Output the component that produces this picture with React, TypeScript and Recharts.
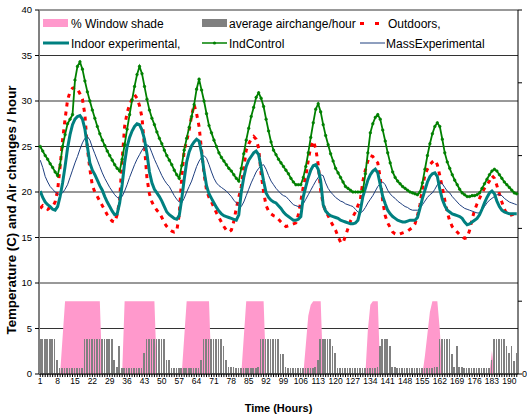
import React from 'react';
import { ComposedChart, Area, Bar, Line, XAxis, YAxis, CartesianGrid } from 'recharts';

const FONT = "'Liberation Sans', Arial, Helvetica, sans-serif";

// hourly readings, hour 1..193
const indControl = [
  25, 24.5, 24, 23.6, 23.1, 22.7, 22.2, 21.8, 23, 25,
  26.3, 27.5, 28, 28.5, 32.3, 33.8, 34.3, 33.5, 32.2, 31,
  30, 29, 28.1, 27.2, 26.4, 25.7, 25.1, 24.5, 24, 23.5,
  23, 22.6, 22.3, 23.6, 25.2, 26.9, 28.5, 30.1, 31.6, 32.9,
  33.8, 33, 31.6, 30.2, 29, 28.1, 27.4, 26.6, 25.9, 25.3,
  24.6, 24, 23.5, 23, 22.4, 21.9, 21.5, 22.9, 24.6, 25.9,
  27.1, 28.3, 29.6, 31.3, 32.4, 31.2, 30, 28.6, 27.3, 26.5,
  25.7, 25, 24.3, 23.8, 23.4, 23, 22.6, 22.3, 21.9, 21.5,
  21.2, 22.6, 24.2, 25.7, 27, 28.3, 29.3, 30.4, 30.9, 30.3,
  29.4, 28, 26.7, 25.5, 24.6, 24.1, 23.6, 23.2, 22.8, 22.4,
  22, 21.5, 21.1, 20.8, 20.8, 20.8, 21.6, 22.8, 24.3, 26,
  27.6, 29.1, 29.7, 28.8, 27.4, 26.2, 25.2, 24.2, 23.4, 22.6,
  22.1, 21.6, 21.1, 20.6, 20.4, 20.2, 20, 20, 20, 20,
  20.1, 22, 24.3, 26.5, 27.5, 28.2, 28.5, 28, 26.8, 25.6,
  24.3, 23.2, 22.2, 21.6, 21.2, 20.9, 20.6, 20.4, 20.2, 20,
  19.9, 19.8, 19.7, 20, 21, 22.5, 24, 25.3, 26.4, 27.2,
  27.6, 27.2, 25.8, 24.3, 23.3, 22.6, 21.9, 21.3, 20.8, 20.3,
  19.9, 19.7, 19.5, 19.5, 19.6, 19.6, 19.7, 19.9, 20.4, 20.9,
  21.4, 21.9, 22.3, 22.5, 22.3, 21.9, 21.5, 21.1, 20.8, 20.5,
  20.2, 19.9, 19.8,
];

const indoorExperimental = [
  20.1, 19.4, 18.9, 18.6, 18.4, 18.1, 18, 18.4, 19.5, 21,
  22.8, 24.8, 26.3, 27.4, 28, 28.3, 28.4, 28, 26.9, 25,
  23.2, 22.4, 21.9, 21.3, 20.7, 20.2, 19.5, 18.9, 18.4, 17.9,
  17.5, 17.6, 18.8, 20.8, 23.2, 25, 26, 26.7, 27.2, 27.5,
  27.4, 26.8, 25.8, 24.2, 22.2, 21, 20.3, 19.9, 19.5, 19,
  18.4, 17.8, 17.5, 17.3, 17.1, 17, 17.4, 19.2, 21.4, 23.3,
  24.4, 25.1, 25.5, 25.8, 25.6, 24.3, 22.3, 20.7, 19.8, 19.3,
  18.8, 18.3, 17.9, 17.6, 17.4, 17.3, 17.2, 17.1, 17, 16.9,
  17.5, 20, 21.6, 22.8, 23.5, 23.9, 24.3, 24.5, 24.1, 22.7,
  21.2, 19.9, 19.4, 19.1, 18.9, 18.8, 18.5, 18.2, 17.8, 17.5,
  17.3, 17.1, 16.9, 16.9, 17, 17.3, 19.5, 20.6, 21.6, 22.4,
  22.9, 23, 22.5, 21.2, 18.6, 17.9, 17.6, 17.4, 17.3, 17.2,
  17.1, 16.9, 16.8, 16.7, 16.6, 16.5, 16.5, 16.6, 16.9, 18,
  19.5, 20.4, 21.3, 21.9, 22.3, 22.5, 22.1, 20.8, 19.5, 18.7,
  18, 17.6, 17.3, 17.1, 16.9, 16.8, 16.7, 16.7, 16.8, 16.9,
  16.9, 16.9, 17.2, 18.2, 19.3, 20.2, 21.1, 21.7, 22, 22.1,
  21.7, 20.3, 19.2, 18.5, 18, 17.8, 17.6, 17.5, 17.4, 17.3,
  17.1, 16.7, 16.4, 16.5, 16.7, 16.9, 17.1, 17.5, 18.1, 18.8,
  19.4, 19.9, 20.1, 19.8, 19, 18.4, 18, 17.8, 17.7, 17.6,
  17.6, 17.6, 17.6,
];

const massExperimental = [
  23.5, 22.7, 21.7, 21.1, 20.6, 20.3, 20, 19.8, 19.7, 19.9,
  20.3, 20.8, 21.6, 22.4, 23.2, 23.9, 24.7, 25.4, 25.9, 26.1,
  25.7, 24.9, 24.2, 23.5, 22.8, 22.1, 21.5, 21, 20.5, 20.1,
  19.7, 19.4, 19.3, 19.5, 20.1, 20.8, 21.6, 22.3, 23, 23.6,
  24.1, 24.6, 25, 25.2, 25, 24.3, 23.6, 23, 22.4, 21.8,
  21.3, 20.9, 20.6, 20.1, 19.6, 19.2, 18.9, 18.8, 19.3, 20,
  20.6, 21.2, 22, 22.8, 23.4, 23.8, 24, 23.7, 23, 22.2,
  21.5, 21, 20.7, 20.5, 20.3, 20.1, 19.8, 19.5, 19.1, 18.8,
  18.5, 18.4, 18.9, 19.6, 20.3, 21, 21.6, 22.2, 22.6, 22.9,
  23, 22.5, 21.8, 21.2, 20.8, 20.4, 20.1, 19.8, 19.6, 19.5,
  19.2, 18.9, 18.6, 18.5, 18.4, 18.4, 18.7, 19.2, 19.7, 20.2,
  20.7, 21.2, 21.6, 21.9, 21.8, 21, 20.4, 20, 19.7, 19.4,
  19.2, 19, 18.9, 18.7, 18.6, 18.5, 18.4, 18.1, 17.8, 17.7,
  17.9, 18.3, 18.8, 19.2, 19.6, 20.1, 20.6, 20.9, 21.1, 20.8,
  20.2, 19.8, 19.5, 19.3, 19, 18.8, 18.6, 18.4, 18.3, 18.1,
  18, 18, 18, 18.2, 18.6, 19, 19.4, 19.7, 19.9, 20.3,
  20.8, 21.1, 20.9, 20.5, 20.1, 19.9, 19.5, 19.2, 18.9, 18.6,
  18.4, 18.2, 18.1, 18, 17.9, 17.8, 17.7, 17.7, 18, 18.4,
  18.8, 19.1, 19.3, 19.5, 19.7, 19.7, 19.6, 19.3, 19.1, 18.9,
  18.8, 18.7, 18.6,
];

const outdoors = [
  18.2, 18.5, 18.3, 18.1, 18.3, 18.4, 18.9, 20.2, 22.8, 25.7,
  28, 30.1, 31, 31.4, 31.5, 31.3, 30.8, 30.2, 28.5, 24.8,
  22.5, 20.7, 20, 19.5, 19, 18.5, 18, 17.5, 17.1, 16.8,
  16.7, 17.5, 19.2, 23.5, 27.2, 28.7, 29.6, 30.2, 30.7, 30.3,
  29.5, 28.2, 25, 21.5, 19.8, 18.9, 18.4, 18, 17.7, 17.2,
  16.6, 16.2, 15.9, 15.7, 15.6, 15.7, 17.5, 21.5, 24.6, 25.6,
  26.8, 28.4, 29.6, 28.6, 27.2, 24.6, 22, 20.2, 19.4, 18.9,
  18.3, 17.7, 17.2, 16.7, 16.2, 15.8, 15.6, 15.8, 16.8, 18.2,
  19.4, 20.6, 22.6, 24.6, 25.3, 25.8, 26.1, 25.8, 24.8, 22,
  20, 18.5, 17.9, 17.6, 17.4, 17.3, 17, 16.7, 16.4, 16.2,
  16.3, 16.4, 16.5, 16.6, 17.5, 19, 20.6, 21.7, 23.5, 25,
  25.6, 24.8, 23, 20.2, 18.6, 17.9, 17.4, 16.8, 16.3, 15.8,
  15.1, 14.5, 14.4, 15.2, 16, 16.8, 17.3, 17.8, 18.5, 19.2,
  21.2, 22.4, 23.4, 24, 23.9, 23.5, 23.2, 21.5, 19, 17.4,
  16.6, 16.1, 15.6, 15.4, 15.3, 15.4, 15.5, 15.6, 15.7, 15.9,
  16.1, 16.5, 17.4, 18.6, 20.4, 21.9, 22.5, 23, 23.3, 23.5,
  23, 21.8, 20.5, 19.1, 17.8, 16.8, 16.2, 15.9, 15.6, 15.3,
  15.1, 14.9, 15, 15.8, 17, 18, 18.7, 19.3, 19.9, 20.4,
  20.8, 21.2, 21.8, 21.5, 20.7, 19.8, 18.9, 18.1, 17.6, 17.4,
  17.5, 17.6, 17.7,
];

const airChange = [
  3.8, 3.8, 3.8, 3.8, 3.8, 3.8, 3.8, 1.5, 0.65, 0.65,
  0.65, 0.65, 0.65, 0.65, 0.65, 0.65, 0.65, 0.65, 3.8, 3.8,
  3.8, 3.8, 3.8, 3.8, 3.8, 3.8, 3.8, 3.8, 3.8, 3.8,
  1.5, 0.8, 3.1, 0.65, 0.65, 0.65, 0.65, 0.65, 0.65, 0.65,
  0.65, 0.65, 2.3, 3.8, 3.8, 3.8, 3.8, 3.8, 3.8, 3.8,
  3.8, 1.5, 1.5, 0.65, 0.65, 0.65, 0.65, 0.65, 0.65, 0.65,
  0.65, 0.65, 0.65, 0.65, 0.65, 1.5, 3.8, 3.8, 3.8, 3.8,
  3.8, 3.8, 3.8, 3.8, 3.1, 1.5, 0.75, 0.75, 0.75, 0.65,
  0.65, 0.65, 0.65, 0.65, 0.65, 0.65, 0.65, 0.65, 0.8, 3.8,
  3.8, 3.8, 3.8, 3.8, 3.8, 3.8, 3.8, 2.2, 2.2, 0.75,
  0.65, 0.65, 0.65, 0.65, 0.65, 0.65, 0.65, 0.65, 0.65, 0.65,
  0.65, 0.8, 1.5, 3.8, 3.8, 3.8, 3.8, 3.8, 3.1, 2.3,
  0.65, 0.65, 0.65, 0.65, 0.65, 0.65, 0.65, 0.65, 0.65, 0.65,
  0.65, 0.65, 0.65, 0.65, 0.65, 0.65, 0.8, 3.1, 3.8, 3.8,
  3.8, 3.1, 0.75, 0.75, 0.65, 0.65, 0.65, 0.65, 0.65, 0.65,
  0.65, 0.65, 0.65, 0.65, 0.65, 0.65, 0.65, 0.65, 0.65, 0.75,
  0.75, 3.8, 3.8, 3.8, 3.8, 3.8, 2.2, 0.75, 3.1, 0.75,
  0.75, 0.65, 0.65, 0.65, 0.65, 0.65, 0.65, 0.65, 0.65, 0.65,
  0.65, 0.65, 1.5, 3.8, 3.8, 3.8, 3.8, 3.8, 3.1, 2.3,
  3.1, 1.4, 2.3,
];

// % window shade, read on the right axis
const windowShade = [
  0, 0, 0, 0, 0, 0, 0, 0, 0, 50,
  100, 100, 100, 100, 100, 100, 100, 100, 100, 100,
  100, 100, 100, 100, 100, 0, 0, 0, 0, 0,
  0, 0, 0, 0, 100, 100, 100, 100, 100, 100,
  100, 100, 100, 100, 100, 100, 100, 0, 0, 0,
  0, 0, 0, 0, 0, 0, 0, 0, 50, 100,
  100, 100, 100, 100, 100, 100, 100, 100, 100, 0,
  0, 0, 0, 0, 0, 0, 0, 0, 0, 0,
  0, 0, 50, 100, 100, 100, 100, 100, 100, 100,
  100, 0, 0, 0, 0, 0, 0, 0, 0, 0,
  0, 0, 0, 0, 0, 0, 0, 40, 80, 95,
  100, 100, 100, 100, 0, 0, 0, 0, 0, 0,
  0, 0, 0, 0, 0, 0, 0, 0, 0, 0,
  0, 0, 60, 95, 100, 100, 100, 0, 0, 0,
  0, 0, 0, 0, 0, 0, 0, 0, 0, 0,
  0, 0, 0, 0, 0, 25, 55, 85, 100, 100,
  100, 60, 0, 0, 0, 0, 0, 0, 0, 0,
  0, 0, 0, 0, 0, 0, 0, 0, 0, 0,
  0, 0, 32, 0, 0, 0, 0, 0, 0, 0,
  0, 0, 0,
];

const leftTicks = [0, 5, 10, 15, 20, 25, 30, 35, 40];
const rightTicks = [0, 100, 200, 300, 400, 500];

const data = indControl.map((v, i) => ({
  hour: i + 1,
  indControl: v,
  indoor: indoorExperimental[i],
  mass: massExperimental[i],
  outdoors: outdoors[i],
  air: airChange[i],
  shade: windowShade[i],
}));

const YTitle = () => (
  <text
    x={16}
    y={210}
    transform="rotate(-90 16 210)"
    textAnchor="middle"
    fontSize={13.3}
    fontWeight="bold"
    fontFamily={FONT}
    fill="#000"
  >
    Temperature (C) and Air changes / hour
  </text>
);

// solid, pixel-snapped air change bars
const AirBar = (props: any) => {
  const { x, y, width, height } = props;
  if (!height || height <= 0) return null;
  return <rect x={x} y={y} width={width} height={height} fill="#808080" shapeRendering="crispEdges" />;
};

const ChartKey = () => (
  <svg width={477} height={44} style={{ position: 'absolute', left: 40, top: 11 }} fontFamily={FONT} fontSize={12}>
    <rect width={477} height={44} fill="#fff" />
    <rect x={3} y={8} width={25} height={8} fill="#ff99cc" />
    <text x={31} y={17} fill="#000">% Window shade</text>
    <rect x={162} y={8} width={25} height={8} fill="#808080" />
    <text x={189} y={17} fill="#000">average airchange/hour</text>
    <line x1={320} x2={345} y1={12.5} y2={12.5} stroke="#ff0000" strokeWidth={3} strokeDasharray="4 11" />
    <text x={348} y={17} fill="#000">Outdoors,</text>

    <line x1={3} x2={29} y1={32} y2={32} stroke="#008080" strokeWidth={3} />
    <text x={31} y={37} fill="#000">Indoor experimental,</text>
    <line x1={162} x2={187} y1={32} y2={32} stroke="#008000" strokeWidth={1.5} />
    <circle cx={174.5} cy={32} r={1.6} fill="#008000" />
    <text x={189} y={37} fill="#000">IndControl</text>
    <line x1={320} x2={345} y1={32} y2={32} stroke="#1f3f7f" strokeWidth={1} />
    <text x={346} y={37} fill="#000">MassExperimental</text>
  </svg>
);

export default function App() {
  return (
    <div style={{ position: 'absolute', left: 0, top: 0, width: 527, height: 418, background: '#fff', overflow: 'hidden' }}>
      <ComposedChart width={527} height={418} data={data} margin={{ top: 10, right: 0, bottom: 0, left: 0 }}>
        <CartesianGrid yAxisId="left" vertical={false} stroke="#333" strokeWidth={1} />
        <XAxis
          dataKey="hour"
          interval={0}
          height={44}
          tickSize={3}
          tickMargin={1}
          stroke="#000"
          tick={{ fontSize: 8.5, fill: '#000', fontFamily: FONT }}
          tickFormatter={(v: number) => ((v - 1) % 7 === 0 ? String(v) : '')}
          label={{
            value: 'Time (Hours)',
            position: 'insideBottom',
            offset: 6,
            style: { fontSize: 11, fontWeight: 'bold', fill: '#000', fontFamily: FONT },
          }}
        />
        <YAxis
          yAxisId="left"
          width={39}
          domain={[0, 40]}
          ticks={leftTicks}
          tickSize={4}
          tickMargin={3}
          axisLine={{ stroke: '#808080', strokeWidth: 2 }}
          tickLine={{ stroke: '#000' }}
          tick={{ fontSize: 9.5, fill: '#000', fontFamily: FONT }}
          label={<YTitle />}
        />
        <YAxis
          yAxisId="right"
          orientation="right"
          width={9}
          domain={[0, 500]}
          ticks={rightTicks}
          tickSize={4}
          tickMargin={0}
          stroke="#000"
          tick={{ fontSize: 9, fill: '#000', fontFamily: FONT, textAnchor: 'start' }}
          tickFormatter={(v: number) => (v === 0 ? '0' : '')}
        />
        <Area
          yAxisId="right"
          type="linear"
          dataKey="shade"
          stroke="none"
          fill="#ff99cc"
          fillOpacity={1}
          isAnimationActive={false}
        />
        <Bar yAxisId="left" dataKey="air" fill="#808080" barSize={1.6} shape={<AirBar />} isAnimationActive={false} />
        <Line
          yAxisId="left"
          type="linear"
          dataKey="outdoors"
          stroke="#ff0000"
          strokeWidth={3}
          strokeDasharray="4 5"
          dot={false}
          isAnimationActive={false}
        />
        <Line
          yAxisId="left"
          type="linear"
          dataKey="indControl"
          stroke="#008000"
          strokeWidth={1.8}
          dot={{ r: 1.3, fill: '#008000', stroke: '#008000', strokeWidth: 0.6 }}
          isAnimationActive={false}
        />
        <Line
          yAxisId="left"
          type="linear"
          dataKey="mass"
          stroke="#1f3f7f"
          strokeWidth={1}
          dot={false}
          isAnimationActive={false}
        />
        <Line
          yAxisId="left"
          type="linear"
          dataKey="indoor"
          stroke="#008080"
          strokeWidth={3}
          dot={false}
          isAnimationActive={false}
        />
      </ComposedChart>
      <ChartKey />
    </div>
  );
}
